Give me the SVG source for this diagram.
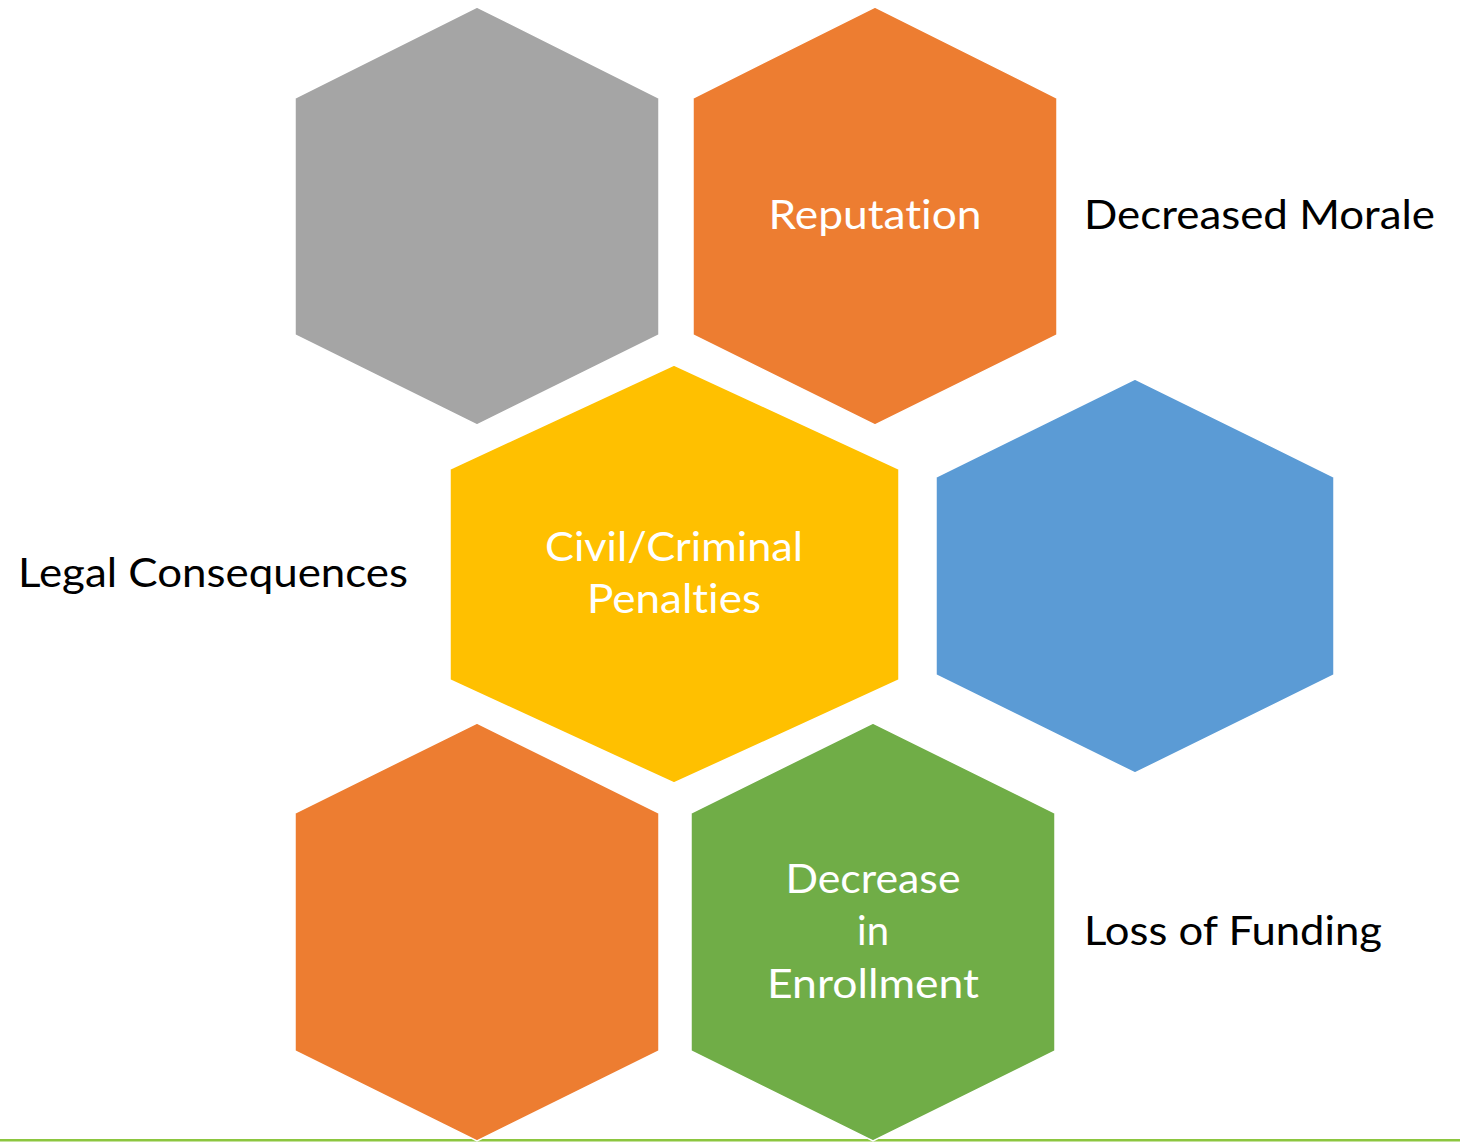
<svg xmlns="http://www.w3.org/2000/svg" width="1460" height="1142" viewBox="0 0 1460 1142">
<style>
.hex{stroke:#FFFFFF;stroke-width:1.5;stroke-linejoin:miter}
.in{font-family:Lato,"Open Sans","Liberation Sans",sans-serif;font-size:40px;fill:#FFFFFF;text-anchor:middle;font-variant-ligatures:none;font-feature-settings:"liga" 0}
.out{font-family:Lato,"Open Sans","Liberation Sans",sans-serif;font-size:40px;fill:#000000;font-variant-ligatures:none;font-feature-settings:"liga" 0}
</style>
<rect width="1460" height="1142" fill="#FFFFFF"/>
<rect x="0" y="1139" width="1460" height="2.5" fill="#8CC63F"/>
<g id="connectors"></g>
<g id="hex-gray"><polygon class="hex" fill="#A5A5A5" points="477,7 659,98 659,335 477,425 295,335 295,98"/></g>
<g id="hex-reputation"><polygon class="hex" fill="#ED7D31" points="875,7 1057,98 1057,335 875,425 693,335 693,98"/>
<text class="in" x="875" y="229" textLength="213" lengthAdjust="spacingAndGlyphs">Reputation</text></g>
<g id="label-morale"><text class="out" x="1084" y="229" textLength="351" lengthAdjust="spacingAndGlyphs">Decreased Morale</text></g>
<g id="hex-penalties"><polygon class="hex" fill="#FFC000" points="674,365 899,469 899,680 674,783 450,680 450,469"/>
<text class="in" x="674" y="561" textLength="258" lengthAdjust="spacingAndGlyphs">Civil/Criminal</text>
<text class="in" x="674" y="613" textLength="174" lengthAdjust="spacingAndGlyphs">Penalties</text></g>
<g id="label-legal"><text class="out" x="18" y="587" textLength="390" lengthAdjust="spacingAndGlyphs">Legal Consequences</text></g>
<g id="hex-blue"><polygon class="hex" fill="#5B9BD5" points="1135,379 1334,477 1334,675 1135,773 936,675 936,477"/></g>
<g id="hex-orange2"><polygon class="hex" fill="#ED7D31" points="477,723 659,813 659,1051 477,1141 295,1051 295,813"/></g>
<g id="hex-enrollment"><polygon class="hex" fill="#70AD47" points="873,723 1055,813 1055,1051 873,1141 691,1051 691,813"/>
<text class="in" x="873" y="893" textLength="175" lengthAdjust="spacingAndGlyphs">Decrease</text>
<text class="in" x="873" y="945">in</text>
<text class="in" x="873" y="998" textLength="212" lengthAdjust="spacingAndGlyphs">Enrollment</text></g>
<g id="label-funding"><text class="out" x="1084" y="945" textLength="298" lengthAdjust="spacingAndGlyphs">Loss of Funding</text></g>
</svg>
